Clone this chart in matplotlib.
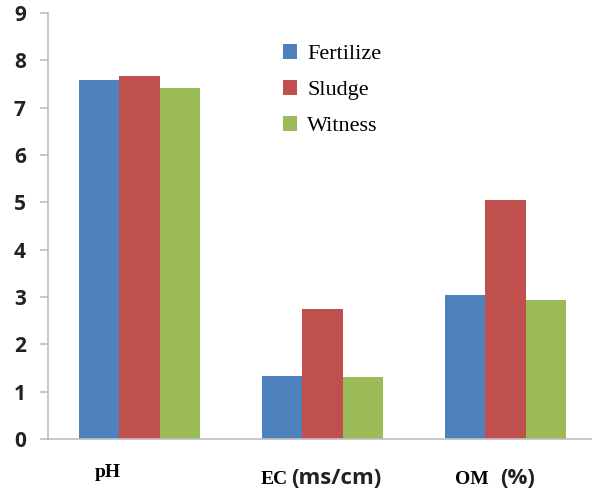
import matplotlib
matplotlib.use('Agg')
import matplotlib.pyplot as plt
import numpy as np
from matplotlib.patches import Patch

# soil parameters per treatment
params = ["pH", "EC", "OM"]
units = ["", "(ms/cm)", "(%)"]
fertilize = [7.58, 1.33, 3.05]
sludge = [7.67, 2.75, 5.05]
witness = [7.42, 1.30, 2.94]
series = ["Fertilize", "Sludge", "Witness"]
colors = ["#4F81BD", "#C0504D", "#9BBB59"]
yticks = list(range(0, 10))

W, H = 592, 492
fig = plt.figure(figsize=(W / 100, H / 100), dpi=100)
ax = fig.add_axes([48 / W, 53 / H, 549 / W, 426 / H])

x = np.arange(len(params))
bw = 0.22
for i, (vals, c) in enumerate(zip([fertilize, sludge, witness], colors)):
    ax.bar(x + (i - 1) * bw, vals, bw, color=c, label=series[i])

ax.set_xlim(-0.5, 2.5)
ax.set_ylim(0, 9)
ax.set_yticks(yticks)
ax.set_xticks([])
for s in ["top", "right"]:
    ax.spines[s].set_visible(False)
for s in ["left", "bottom"]:
    ax.spines[s].set_color("#BFBFBF")
    ax.spines[s].set_linewidth(1.2)
ax.tick_params(axis="y", length=6, width=1.2, color="#BFBFBF", pad=10)
for lab in ax.get_yticklabels():
    lab.set_fontfamily("Open Sans")
    lab.set_fontweight("bold")
    lab.set_fontsize(15)
    lab.set_color("#222222")

# category labels under the axis (name in serif, unit in sans)
name_x = [108, 274, 472]
unit_x = [None, 336, 518]
for n, u, nx, ux in zip(params, units, name_x, unit_x):
    by = 477 if not u else 484
    fig.text(nx / W, 1 - by / H, n, family="Liberation Serif", weight="bold",
             fontsize=14, ha="center", va="baseline")
    if u:
        fig.text(ux / W, 1 - by / H, u, family="Open Sans", weight="bold",
                 fontsize=16, ha="center", va="baseline", color="#222222")

handles = [Patch(facecolor=c, label=s) for c, s in zip(colors, series)]
fig.legend(handles=handles, loc="upper left", bbox_to_anchor=(283 / W, 1 - 44 / H),
           frameon=False, prop={"family": "Liberation Serif", "size": 16},
           borderpad=0, borderaxespad=0,
           handlelength=0.64, handleheight=0.64, handletextpad=0.45, labelspacing=0.72)

fig.savefig("out.png", dpi=100)
